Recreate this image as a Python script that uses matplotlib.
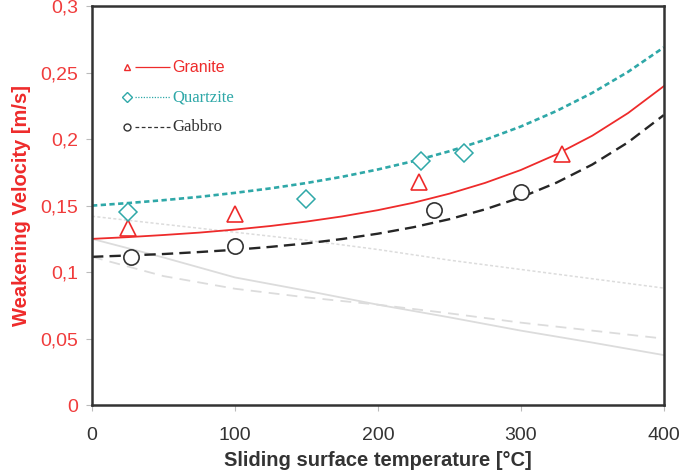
import numpy as np
import matplotlib
matplotlib.use("Agg")
import matplotlib.pyplot as plt

plt.rcParams['font.family'] = ['Liberation Sans', 'DejaVu Sans']

# ---- data ----
# fitted curves (sampled every 25 degC)
curve_t = [0, 25, 50, 75, 100, 125, 150, 175, 200, 225, 250, 275, 300, 325, 350, 375, 400]
quartzite_fit = [0.1500, 0.1519, 0.1541, 0.1566, 0.1596, 0.1630, 0.1670, 0.1717, 0.1772,
                 0.1835, 0.1909, 0.1995, 0.2095, 0.2212, 0.2348, 0.2506, 0.2690]
granite_fit = [0.1250, 0.1263, 0.1279, 0.1297, 0.1320, 0.1347, 0.1380, 0.1419, 0.1466,
               0.1522, 0.1590, 0.1671, 0.1768, 0.1886, 0.2026, 0.2196, 0.2398]
gabbro_fit = [0.1115, 0.1125, 0.1136, 0.1151, 0.1168, 0.1190, 0.1216, 0.1249, 0.1289,
              0.1338, 0.1398, 0.1472, 0.1562, 0.1673, 0.1809, 0.1976, 0.2181]

# faint grey reference curves
grey_t = [0, 50, 100, 150, 200, 250, 300, 350, 400]
grey_dotted = [0.142, 0.136, 0.130, 0.124, 0.117, 0.109, 0.102, 0.095, 0.088]
grey_dashed = [0.1115, 0.097, 0.0875, 0.081, 0.0755, 0.069, 0.062, 0.056, 0.050]
grey_solid = [0.125, 0.111, 0.096, 0.086, 0.0755, 0.066, 0.056, 0.047, 0.0376]

# measured points
granite_t = [25, 100, 229, 329]
granite_v = [0.133, 0.144, 0.168, 0.189]
quartzite_t = [25, 150, 230, 260]
quartzite_v = [0.145, 0.155, 0.1835, 0.1897]
gabbro_t = [27, 100, 239, 300]
gabbro_v = [0.111, 0.120, 0.1466, 0.160]

yticks = [0, 0.05, 0.1, 0.15, 0.2, 0.25, 0.3]
ytick_labels = ['0', '0,05', '0,1', '0,15', '0,2', '0,25', '0,3']
xticks = [0, 100, 200, 300, 400]

RED = '#ee2b2b'
TEAL = '#2fa8a8'
DARK = '#262626'
GREY = '#dcdcdc'

fig = plt.figure(figsize=(6.93, 4.76), dpi=100)
ax = fig.add_axes([0.1328, 0.149, 0.825, 0.838])

# grey background curves
ax.plot(grey_t, grey_dotted, color=GREY, lw=1.1, linestyle=(0, (2, 1.5)))
ax.plot(grey_t, grey_dashed, color=GREY, lw=1.3, linestyle=(0, (6, 4)))
ax.plot(grey_t, grey_solid, color=GREY, lw=1.3)

# fitted curves
ax.plot(curve_t, quartzite_fit, color=TEAL, lw=1.9, linestyle=(0, (2.0, 1.3)))
ax.plot(curve_t, granite_fit, color=RED, lw=1.3)
ax.plot(curve_t, gabbro_fit, color=DARK, lw=1.7, linestyle=(0, (4.8, 2.6)))

# data points
ax.plot(granite_t, granite_v, linestyle='none', marker='^', ms=12, mfc='white',
        mec=RED, mew=1.2)
ax.plot(quartzite_t, quartzite_v, linestyle='none', marker='D', ms=9, mfc='white',
        mec=TEAL, mew=1.1)
ax.plot(gabbro_t, gabbro_v, linestyle='none', marker='o', ms=11, mfc='white',
        mec='#333333', mew=1.2)

# hand-made legend (marker at left end of line, coloured text)
leg = [('^', RED, 'Granite', 'Liberation Sans', 11.5, (0, ())),
       ('D', TEAL, 'Quartzite', 'Liberation Serif', 12, (0, (1, 1.2))),
       ('o', '#333333', 'Gabbro', 'Liberation Serif', 12, (0, (3, 2)))]
ypos = [0.847, 0.772, 0.697]
for (mk, col, name, fam, fs, ls), yy in zip(leg, ypos):
    ax.plot([0.061], [yy], transform=ax.transAxes, marker=mk, ms=5, mfc='white',
            mec=col, mew=1.0, linestyle='none')
    ax.plot([0.075, 0.136], [yy, yy], transform=ax.transAxes, color=col, lw=0.9,
            linestyle=ls)
    ax.text(0.140, yy, name, transform=ax.transAxes, color=col, fontsize=fs,
            family=fam, va='center', ha='left')

ax.set_xlim(0, 400)
ax.set_ylim(0, 0.3)
ax.set_xticks(xticks)
ax.set_xticklabels([str(t) for t in xticks])
ax.set_yticks(yticks)
ax.set_yticklabels(ytick_labels)

ax.tick_params(axis='y', colors='#bbbbbb', labelcolor='#f03c3c', labelsize=14,
               length=4, width=0.8, direction='out', pad=6)
ax.tick_params(axis='x', colors='#bbbbbb', labelcolor='#333333', labelsize=14,
               length=4, width=0.8, direction='out', pad=12)

for sp in ax.spines.values():
    sp.set_color('#333333')
    sp.set_linewidth(1.8)

ax.set_ylabel('Weakening Velocity [m/s]', color=RED, fontsize=14.5, fontweight='bold',
              labelpad=7)
ax.set_xlabel('Sliding surface temperature [°C]', color='#333333', fontsize=14.5,
              fontweight='bold', labelpad=5)

fig.savefig('out.png', dpi=100)
